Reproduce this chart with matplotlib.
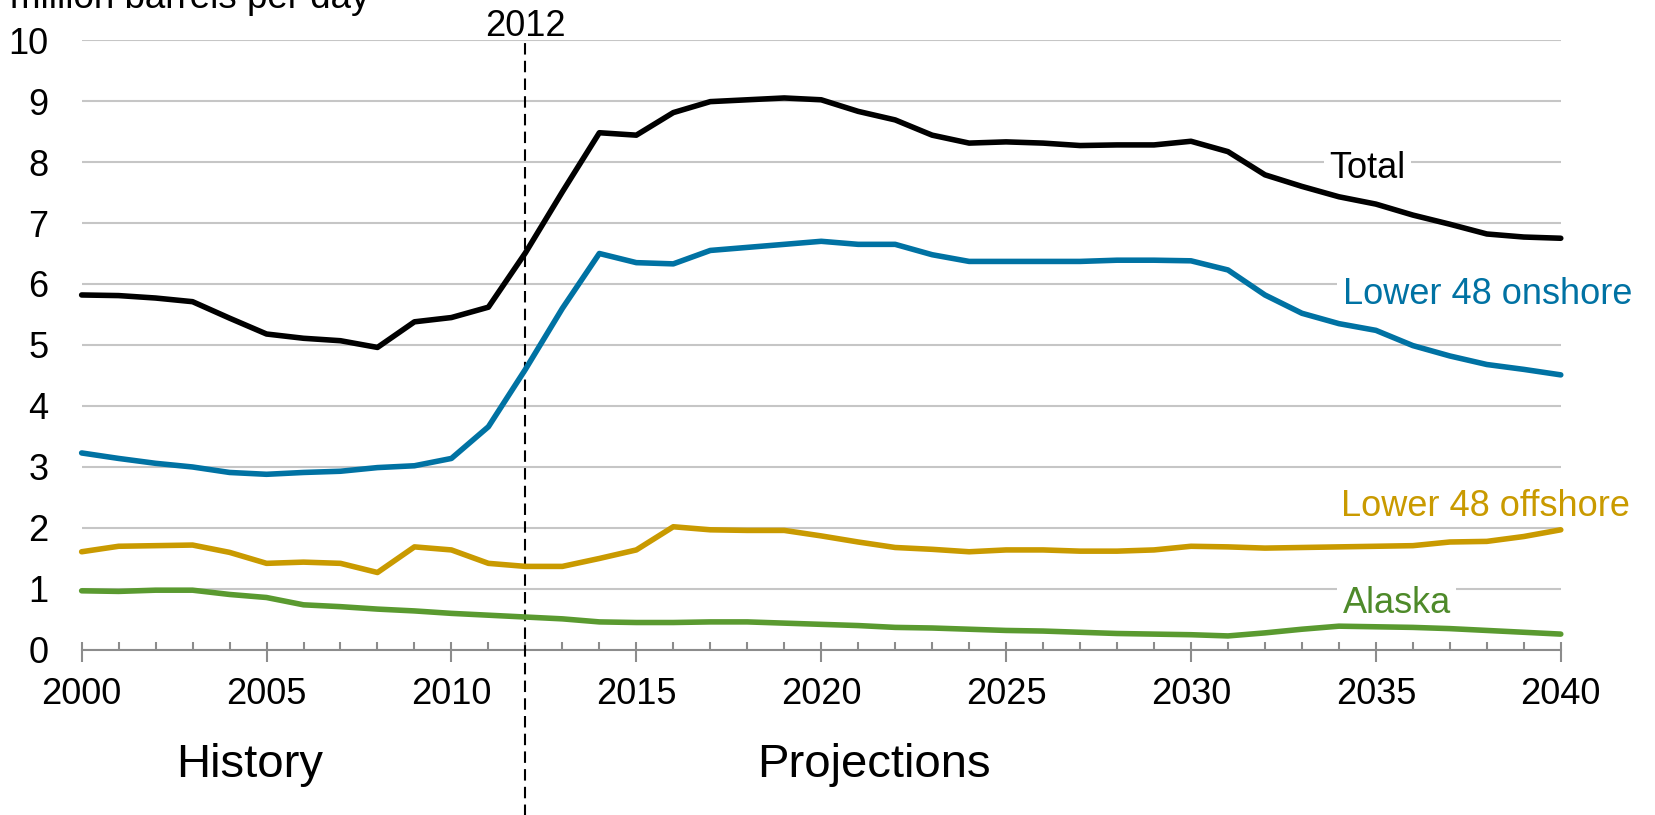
import matplotlib
matplotlib.use("Agg")
import matplotlib.pyplot as plt
from matplotlib.ticker import MultipleLocator
import numpy as np

plt.rcParams['font.family'] = ['Liberation Sans', 'DejaVu Sans']

# data, million barrels per day
years = np.arange(2000, 2041)
total = [5.82, 5.81, 5.77, 5.71, 5.44, 5.18, 5.11, 5.07, 4.96, 5.38,
         5.45, 5.62, 6.51, 7.51, 8.48, 8.44, 8.81, 8.99, 9.02, 9.05,
         9.02, 8.83, 8.69, 8.44, 8.31, 8.33, 8.31, 8.27, 8.28, 8.28,
         8.34, 8.17, 7.79, 7.60, 7.43, 7.31, 7.13, 6.98, 6.82, 6.77, 6.75]
onshore = [3.23, 3.14, 3.06, 3.00, 2.91, 2.88, 2.91, 2.93, 2.99, 3.02,
           3.14, 3.66, 4.60, 5.60, 6.50, 6.35, 6.33, 6.55, 6.60, 6.65,
           6.70, 6.65, 6.65, 6.48, 6.37, 6.37, 6.37, 6.37, 6.39, 6.39,
           6.38, 6.23, 5.82, 5.52, 5.35, 5.24, 4.99, 4.82, 4.68, 4.60, 4.51]
offshore = [1.61, 1.70, 1.71, 1.72, 1.60, 1.42, 1.44, 1.42, 1.27, 1.69,
            1.64, 1.42, 1.37, 1.37, 1.50, 1.64, 2.02, 1.97, 1.96, 1.96,
            1.87, 1.77, 1.68, 1.65, 1.61, 1.64, 1.64, 1.62, 1.62, 1.64,
            1.70, 1.69, 1.67, 1.68, 1.69, 1.70, 1.71, 1.77, 1.78, 1.86, 1.97]
alaska = [0.97, 0.96, 0.98, 0.98, 0.91, 0.86, 0.74, 0.71, 0.67, 0.64,
          0.60, 0.57, 0.54, 0.51, 0.46, 0.45, 0.45, 0.46, 0.46, 0.44,
          0.42, 0.40, 0.37, 0.36, 0.34, 0.32, 0.31, 0.29, 0.27, 0.26,
          0.25, 0.23, 0.28, 0.34, 0.39, 0.38, 0.37, 0.35, 0.32, 0.29, 0.26]
split_year = 2012

c_total = 'black'
c_on = '#0072A3'
c_off = '#C99A00'
c_ak = '#5A9A30'

fig = plt.figure(figsize=(16.56, 8.15), dpi=100)
ax = fig.add_axes([0.0493, 0.2025, 0.8932, 0.7484])

ax.set_xlim(2000, 2040)
ax.set_ylim(0, 10)
ax.yaxis.set_major_locator(MultipleLocator(1))
ax.xaxis.set_major_locator(MultipleLocator(5))
ax.xaxis.set_minor_locator(MultipleLocator(1))
ax.xaxis.remove_overlapping_locs = False

ax.set_axisbelow(True)
ax.yaxis.grid(True, color='#C6C6C6', linewidth=1.5)
for s in ['top', 'right', 'left']:
    ax.spines[s].set_visible(False)
ax.spines['bottom'].set_color('#8C8C8C')
ax.spines['bottom'].set_linewidth(1.5)
ax.spines['bottom'].set_zorder(1)

ax.tick_params(axis='y', length=0, pad=24, labelsize=26)
ax.tick_params(axis='x', which='major', direction='out', length=8.5,
               width=1.5, color='#8C8C8C', pad=11, labelsize=26)
ax.tick_params(axis='x', which='minor', direction='in', length=5.5,
               width=1.5, color='#8C8C8C')

lw = 4.0
for vals, col in [(alaska, c_ak), (offshore, c_off), (onshore, c_on), (total, c_total)]:
    ax.plot(years, vals, color=col, lw=lw, solid_capstyle='round',
            solid_joinstyle='round', clip_on=False, zorder=3)

ax.axvline(split_year, ymin=-0.28, ymax=0.995, color='black', lw=1.5,
           dashes=(5.5, 3), clip_on=False, zorder=2)
ax.text(split_year, 10.07, '2012', ha='center', va='baseline', fontsize=26)

box = dict(facecolor='white', edgecolor='none', boxstyle='square,pad=0.15')
ax.text(2033.75, 7.74, 'Total', color=c_total, fontsize=26, va='baseline', bbox=box, zorder=2)
ax.text(2034.1, 5.67, 'Lower 48 onshore', color=c_on, fontsize=26, va='baseline',
        bbox=box, clip_on=False, zorder=2)
ax.text(2034.07, 2.20, 'Lower 48 offshore', color=c_off, fontsize=26, va='baseline',
        clip_on=False, zorder=2)
ax.text(2034.1, 0.60, 'Alaska', color='#4E8A2A', fontsize=26, va='baseline', bbox=box, zorder=2)

ax.text(2004.54, -2.08, 'History', ha='center', va='baseline', fontsize=34, clip_on=False)
ax.text(2021.42, -2.08, 'Projections', ha='center', va='baseline', fontsize=34, clip_on=False)

fig.text(10 / 1656, 1 - 8 / 815, 'million barrels per day', fontsize=26.5, va='baseline')

fig.savefig('out.png', dpi=100)
